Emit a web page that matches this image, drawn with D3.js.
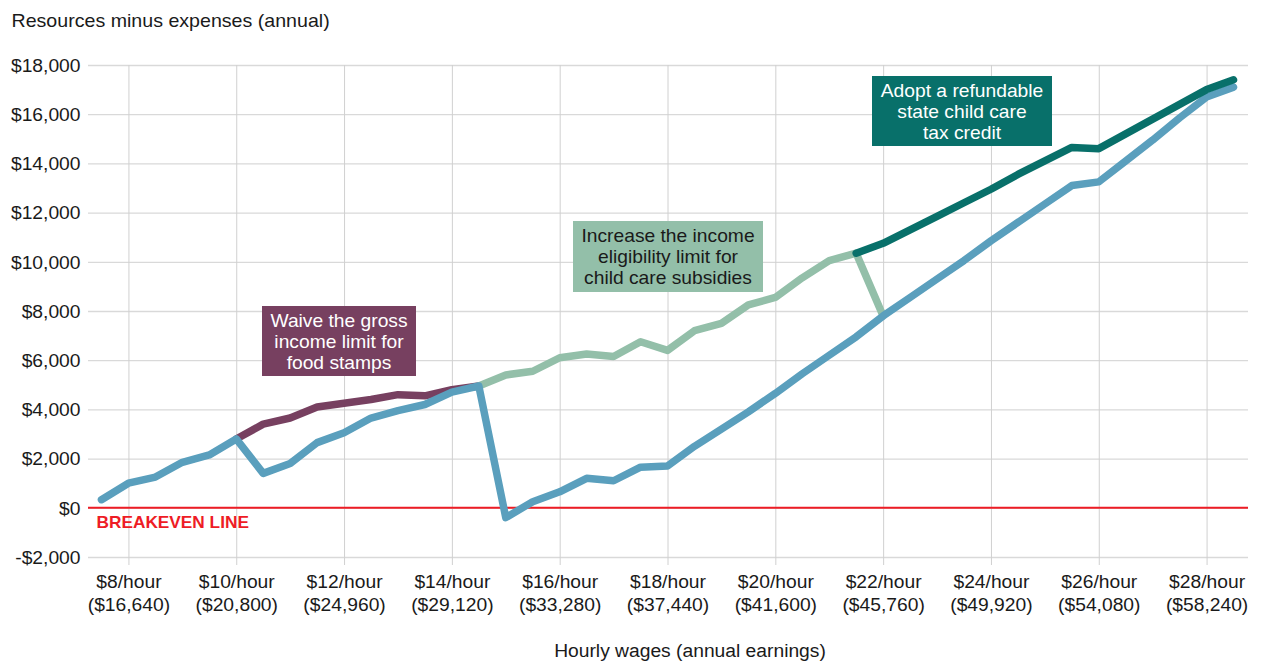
<!DOCTYPE html>
<html>
<head>
<meta charset="utf-8">
<script src="https://cdn.jsdelivr.net/npm/d3@7"></script>
<style>
  html, body { margin: 0; padding: 0; background: #fff; }
  svg { display: block; font-family: "Liberation Sans", Arial, Helvetica, sans-serif; }
</style>
</head>
<body>
<svg id="chart" width="1262" height="663"></svg>
<script>
// Hourly wage steps ($/hour)
const wages = [7.5, 8, 8.5, 9, 9.5, 10, 10.5, 11, 11.5, 12, 12.5, 13, 13.5, 14, 14.5,
  15, 15.5, 16, 16.5, 17, 17.5, 18, 18.5, 19, 19.5, 20, 20.5, 21, 21.5, 22, 22.5,
  23, 23.5, 24, 24.5, 25, 25.5, 26, 26.5, 27, 27.5, 28, 28.5];

// Current policy: resources minus expenses
const currentPolicy = [330, 1000, 1250, 1850, 2150, 2800, 1400, 1800, 2650, 3050, 3650, 3950, 4200, 4700, 4950,
  -400, 250, 650, 1200, 1100, 1650, 1700, 2500, 3200, 3900, 4650, 5450, 6200, 6950, 7800, 8550,
  9300, 10050, 10850, 11600, 12350, 13100, 13250, 14100, 14950, 15850, 16700, 17100];

// Waive the gross income limit for food stamps ($10 – $14.50)
const foodStamps = [null, null, null, null, null, 2800, 3400, 3650, 4100, 4250, 4400, 4600, 4550, 4800, 4950,
  null, null, null, null, null, null, null, null, null, null, null, null, null, null, null, null,
  null, null, null, null, null, null, null, null, null, null, null, null];

// Raise the income eligibility limit for child care subsidies ($14.50 – $22)
const childCare = [null, null, null, null, null, null, null, null, null, null, null, null, null, null, 4950,
  5400, 5550, 6100, 6250, 6150, 6750, 6400, 7200, 7500, 8250, 8550, 9350, 10050, 10350, 7800, null,
  null, null, null, null, null, null, null, null, null, null, null, null];

// Refundable state child care tax credit ($21.50 – $28.50)
const taxCredit = [null, null, null, null, null, null, null, null, null, null, null, null, null, null, null,
  null, null, null, null, null, null, null, null, null, null, null, null, null, 10350, 10750, 11300,
  11850, 12400, 12950, 13550, 14100, 14650, 14600, 15200, 15800, 16400, 17000, 17400];

// Axis ticks
const xTicks = [8, 10, 12, 14, 16, 18, 20, 22, 24, 26, 28];
const xTickHourly = ["$8/hour", "$10/hour", "$12/hour", "$14/hour", "$16/hour", "$18/hour",
  "$20/hour", "$22/hour", "$24/hour", "$26/hour", "$28/hour"];
const xTickAnnual = ["($16,640)", "($20,800)", "($24,960)", "($29,120)", "($33,280)", "($37,440)",
  "($41,600)", "($45,760)", "($49,920)", "($54,080)", "($58,240)"];
const yTicks = [-2000, 0, 2000, 4000, 6000, 8000, 10000, 12000, 14000, 16000, 18000];

const svg = d3.select("#chart");
const plotLeft = 88, plotRight = 1247, plotTop = 65, plotBottom = 557;
const STRETCH = 1.07;

const x = d3.scaleLinear().domain([7.25, 28.75]).range([plotLeft, plotRight]);
const y = d3.scaleLinear().domain([-2000, 18000]).range([plotBottom, plotTop]);

// Horizontal grid + y labels
const yAxis = svg.append("g")
  .attr("transform", `translate(${plotLeft},0)`)
  .call(d3.axisLeft(y).tickValues(yTicks).tickSize(-(plotRight - plotLeft + 1))
    .tickFormat(d => (d < 0 ? "-$" : "$") + d3.format(",")(Math.abs(d))));
yAxis.select(".domain").remove();
yAxis.selectAll(".tick line").attr("stroke", "#d9d9d9").attr("stroke-width", 1.3);
yAxis.selectAll(".tick text")
  .attr("x", -7.5 / STRETCH).attr("dy", "0.35em")
  .attr("transform", `scale(${STRETCH},1)`)
  .attr("font-size", 18).attr("fill", "#1a1a1a")
  .attr("font-family", "Liberation Sans, Arial, sans-serif");

// Vertical grid + two-line x labels
const xAxis = svg.append("g")
  .attr("transform", `translate(0,${plotTop})`)
  .call(d3.axisBottom(x).tickValues(xTicks).tickSize(565 - plotTop).tickFormat(""));
xAxis.select(".domain").remove();
xAxis.selectAll(".tick line").attr("stroke", "#d0d0d0").attr("stroke-width", 1);
xAxis.selectAll(".tick").each(function (d, i) {
  const t = d3.select(this).append("text")
    .attr("text-anchor", "middle")
    .attr("transform", `scale(${STRETCH},1)`)
    .attr("font-size", 18).attr("fill", "#1a1a1a")
    .attr("font-family", "Liberation Sans, Arial, sans-serif");
  t.append("tspan").attr("x", 0).attr("y", 588 - plotTop).text(xTickHourly[i]);
  t.append("tspan").attr("x", 0).attr("y", 611 - plotTop).text(xTickAnnual[i]);
});

// Breakeven line
svg.append("line")
  .attr("x1", plotLeft).attr("x2", plotRight + 1)
  .attr("y1", y(0)).attr("y2", y(0))
  .attr("stroke", "#ee1c25").attr("stroke-width", 2);
svg.append("text")
  .attr("transform", `translate(96.5,${y(0) + 20}) scale(1.04,1)`)
  .attr("font-size", 16.6).attr("font-weight", "bold").attr("fill", "#ee1c25")
  .text("BREAKEVEN LINE");

// Series lines
const line = d3.line()
  .defined(d => d[1] !== null)
  .x(d => x(d[0])).y(d => y(d[1]));
const series = [
  { values: foodStamps, color: "#774060" },
  { values: childCare, color: "#93bfa9" },
  { values: currentPolicy, color: "#5a9fbd" },
  { values: taxCredit, color: "#08706a" }
];
series.forEach(s => {
  svg.append("path")
    .datum(wages.map((w, i) => [w, s.values[i]]))
    .attr("d", line)
    .attr("fill", "none")
    .attr("stroke", s.color)
    .attr("stroke-width", 7.5)
    .attr("stroke-linejoin", "round")
    .attr("stroke-linecap", "round");
});

// Annotation boxes
const notes = [
  { x0: 262, y0: 306, w: 154, h: 70, fill: "#774060", color: "#ffffff", baseline: 326.7,
    lines: ["Waive the gross", "income limit for", "food stamps"] },
  { x0: 573, y0: 221, w: 190, h: 71, fill: "#93bfa9", color: "#1a1a1a", baseline: 241.7,
    lines: ["Increase the income", "eligibility limit for", "child care subsidies"] },
  { x0: 872, y0: 76, w: 180, h: 70, fill: "#08706a", color: "#ffffff", baseline: 96.7,
    lines: ["Adopt a refundable", "state child care", "tax credit"] }
];
notes.forEach(n => {
  const g = svg.append("g");
  g.append("rect").attr("x", n.x0).attr("y", n.y0).attr("width", n.w).attr("height", n.h)
    .attr("fill", n.fill);
  const cx = n.x0 + n.w / 2;
  n.lines.forEach((l, i) => {
    g.append("text")
      .attr("transform", `translate(${cx},${n.baseline + i * 21.2}) scale(1.04,1)`)
      .attr("text-anchor", "middle")
      .attr("font-size", 18.5).attr("fill", n.color)
      .text(l);
  });
});

// Titles
svg.append("text")
  .attr("transform", `translate(11.5,26.7) scale(1.09,1)`)
  .attr("font-size", 18).attr("fill", "#1a1a1a")
  .text("Resources minus expenses (annual)");
svg.append("text")
  .attr("transform", `translate(690,657) scale(${STRETCH},1)`)
  .attr("text-anchor", "middle")
  .attr("font-size", 18).attr("fill", "#1a1a1a")
  .text("Hourly wages (annual earnings)");
</script>
</body>
</html>
